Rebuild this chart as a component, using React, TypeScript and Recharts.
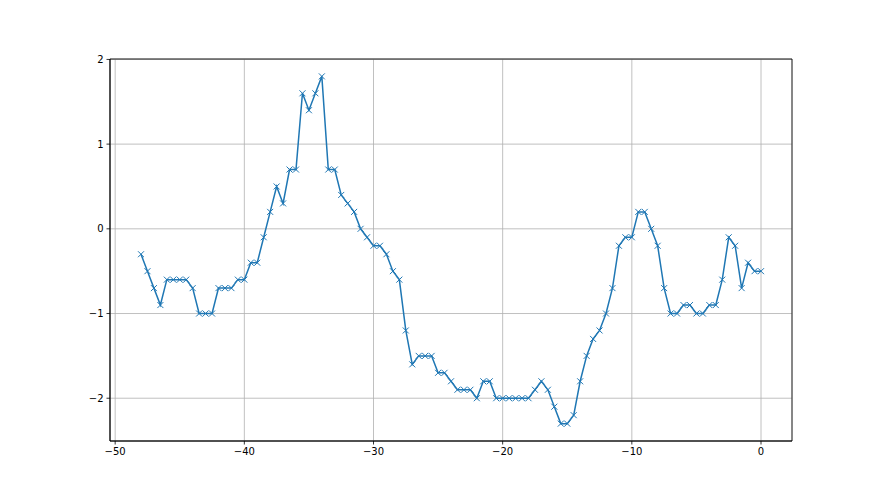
import React from 'react';
import {
  LineChart, Line, XAxis, YAxis, CartesianGrid, ReferenceArea
} from 'recharts';

const xValues = [
  -48, -47.5, -47, -46.5, -46, -45.5, -45, -44.5, -44, -43.5,
  -43, -42.5, -42, -41.5, -41, -40.5, -40, -39.5, -39, -38.5,
  -38, -37.5, -37, -36.5, -36, -35.5, -35, -34.5, -34, -33.5,
  -33, -32.5, -32, -31.5, -31, -30.5, -30, -29.5, -29, -28.5,
  -28, -27.5, -27, -26.5, -26, -25.5, -25, -24.5, -24, -23.5,
  -23, -22.5, -22, -21.5, -21, -20.5, -20, -19.5, -19, -18.5,
  -18, -17.5, -17, -16.5, -16, -15.5, -15, -14.5, -14, -13.5,
  -13, -12.5, -12, -11.5, -11, -10.5, -10, -9.5, -9, -8.5,
  -8, -7.5, -7, -6.5, -6, -5.5, -5, -4.5, -4, -3.5,
  -3, -2.5, -2, -1.5, -1, -0.5, 0,
];

const yValues = [
  -0.3, -0.5, -0.7, -0.9, -0.6, -0.6, -0.6, -0.6, -0.7, -1.0,
  -1.0, -1.0, -0.7, -0.7, -0.7, -0.6, -0.6, -0.4, -0.4, -0.1,
  0.2, 0.5, 0.3, 0.7, 0.7, 1.6, 1.4, 1.6, 1.8, 0.7,
  0.7, 0.4, 0.3, 0.2, 0.0, -0.1, -0.2, -0.2, -0.3, -0.5,
  -0.6, -1.2, -1.6, -1.5, -1.5, -1.5, -1.7, -1.7, -1.8, -1.9,
  -1.9, -1.9, -2.0, -1.8, -1.8, -2.0, -2.0, -2.0, -2.0, -2.0,
  -2.0, -1.9, -1.8, -1.9, -2.1, -2.3, -2.3, -2.2, -1.8, -1.5,
  -1.3, -1.2, -1.0, -0.7, -0.2, -0.1, -0.1, 0.2, 0.2, 0.0,
  -0.2, -0.7, -1.0, -1.0, -0.9, -0.9, -1.0, -1.0, -0.9, -0.9,
  -0.6, -0.1, -0.2, -0.7, -0.4, -0.5, -0.5,
];

const xTicks = [-50, -40, -30, -20, -10, 0];
const yTicks = [-2, -1, 0, 1, 2];

const data = xValues.map((x, i) => ({ x, y: yValues[i] }));

const X_DOMAIN: [number, number] = [-50.4, 2.4];
const Y_DOMAIN: [number, number] = [-2.505, 2.005];
const BLUE = '#1f77b4';
const FONT = 'DejaVu Sans';

const fmt = (v: number) => String(v).replace('-', '\u2212');

function CrossDot(props: any) {
  const { cx, cy, index } = props;
  if (cx == null || cy == null) return null;
  const s = 3;
  return (
    <g key={`dot-${index}`}>
      <line x1={cx - s} y1={cy - s} x2={cx + s} y2={cy + s} stroke={BLUE} strokeWidth={1} />
      <line x1={cx - s} y1={cy + s} x2={cx + s} y2={cy - s} stroke={BLUE} strokeWidth={1} />
    </g>
  );
}

export default function App() {
  const tick = { fill: '#000', fontSize: 10, fontFamily: FONT };
  return (
    <div style={{ position: 'absolute', left: 0, top: 0, background: '#fff' }}>
      <LineChart
        width={880}
        height={495}
        data={data}
        margin={{ top: 59, right: 88, bottom: 29, left: 80 }}
      >
        <CartesianGrid stroke="#b0b0b0" strokeWidth={0.8} />
        <XAxis
          dataKey="x"
          type="number"
          domain={X_DOMAIN}
          ticks={xTicks}
          allowDataOverflow
          tickFormatter={fmt}
          tick={tick}
          tickSize={3.5}
          tickMargin={3}
          height={25}
          stroke="#000"
          strokeWidth={0.8}
        />
        <YAxis
          dataKey="y"
          type="number"
          domain={Y_DOMAIN}
          ticks={yTicks}
          allowDataOverflow
          tickFormatter={fmt}
          tick={tick}
          tickSize={3.5}
          tickMargin={3}
          width={30}
          stroke="#000"
          strokeWidth={0.8}
        />
        <ReferenceArea
          x1={X_DOMAIN[0]}
          x2={X_DOMAIN[1]}
          y1={Y_DOMAIN[0]}
          y2={Y_DOMAIN[1]}
          fill="none"
          fillOpacity={0}
          stroke="#000"
          strokeWidth={0.8}
          ifOverflow="visible"
        />
        <Line
          type="linear"
          dataKey="y"
          stroke={BLUE}
          strokeWidth={1.5}
          dot={<CrossDot />}
          activeDot={false}
          isAnimationActive={false}
        />
      </LineChart>
    </div>
  );
}
